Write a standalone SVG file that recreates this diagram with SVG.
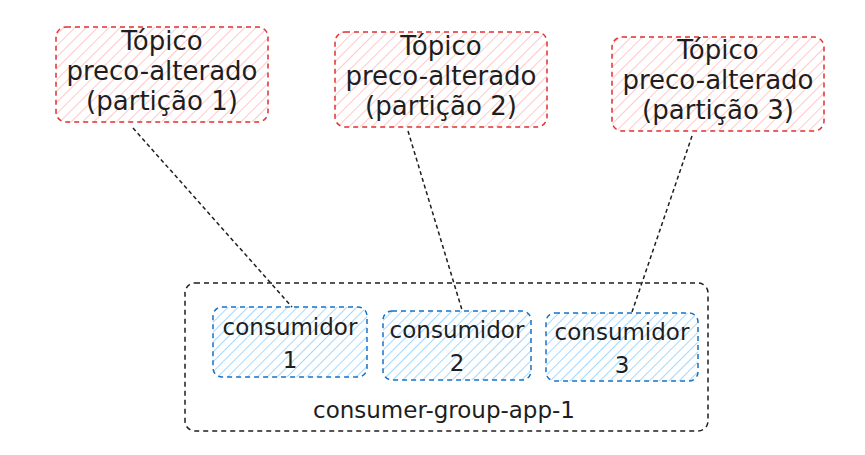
<svg xmlns="http://www.w3.org/2000/svg" width="865" height="455" viewBox="0 0 865 455">
<defs>
<pattern id="hr" width="8" height="8" patternUnits="userSpaceOnUse" patternTransform="rotate(45)"><line x1="0" y1="0" x2="0" y2="8" stroke="#ffc9c9" stroke-width="2"/></pattern>
<pattern id="hb" width="7" height="7" patternUnits="userSpaceOnUse" patternTransform="rotate(45)"><line x1="0" y1="0" x2="0" y2="7" stroke="#a5d8ff" stroke-width="2"/></pattern>
</defs>
<style>
.t{font-family:"DejaVu Sans",sans-serif;font-size:23px;fill:#1e1e1e;text-anchor:middle}
.tp{font-size:26px}
.tr{fill:url(#hr);stroke:#e03131;stroke-width:1.5;stroke-dasharray:5 4}
.cb{fill:url(#hb);stroke:#1971c2;stroke-width:1.5;stroke-dasharray:5 4}
.gb{fill:none;stroke:#1e1e1e;stroke-width:1.5;stroke-dasharray:5 4}
.ln{fill:none;stroke:#1e1e1e;stroke-width:1.5;stroke-dasharray:4 3}
</style>
<rect width="865" height="455" fill="#ffffff"/>
<g id="connectors">
<line class="ln" x1="133" y1="128" x2="292" y2="307"/>
<line class="ln" x1="408" y1="131" x2="462" y2="310"/>
<line class="ln" x1="692" y1="136" x2="632" y2="312"/>
</g>
<g id="group-box">
<rect class="gb" x="185" y="283" width="523" height="148" rx="10"/>
<text class="t" x="444" y="418">consumer-group-app-1</text>
</g>
<g id="topic1">
<rect class="tr" x="56" y="27" width="212" height="95" rx="10"/>
<text class="t tp" x="162" y="50">Tópico</text>
<text class="t tp" x="162" y="80">preco-alterado</text>
<text class="t tp" x="162" y="110">(partição 1)</text>
</g>
<g id="topic2">
<rect class="tr" x="335" y="32" width="212" height="95" rx="10"/>
<text class="t tp" x="441" y="55">Tópico</text>
<text class="t tp" x="441" y="85">preco-alterado</text>
<text class="t tp" x="441" y="115">(partição 2)</text>
</g>
<g id="topic3">
<rect class="tr" x="612" y="37" width="212" height="94" rx="10"/>
<text class="t tp" x="718" y="59">Tópico</text>
<text class="t tp" x="718" y="89">preco-alterado</text>
<text class="t tp" x="718" y="119">(partição 3)</text>
</g>
<g id="consumer1">
<rect class="cb" x="213" y="307" width="154" height="70" rx="9"/>
<text class="t" x="290" y="335">consumidor</text>
<text class="t" x="290" y="368">1</text>
</g>
<g id="consumer2">
<rect class="cb" x="383" y="311" width="148" height="69" rx="9"/>
<text class="t" x="457" y="338">consumidor</text>
<text class="t" x="457" y="371">2</text>
</g>
<g id="consumer3">
<rect class="cb" x="546" y="313" width="152" height="68" rx="9"/>
<text class="t" x="622" y="340">consumidor</text>
<text class="t" x="622" y="373">3</text>
</g>
</svg>
